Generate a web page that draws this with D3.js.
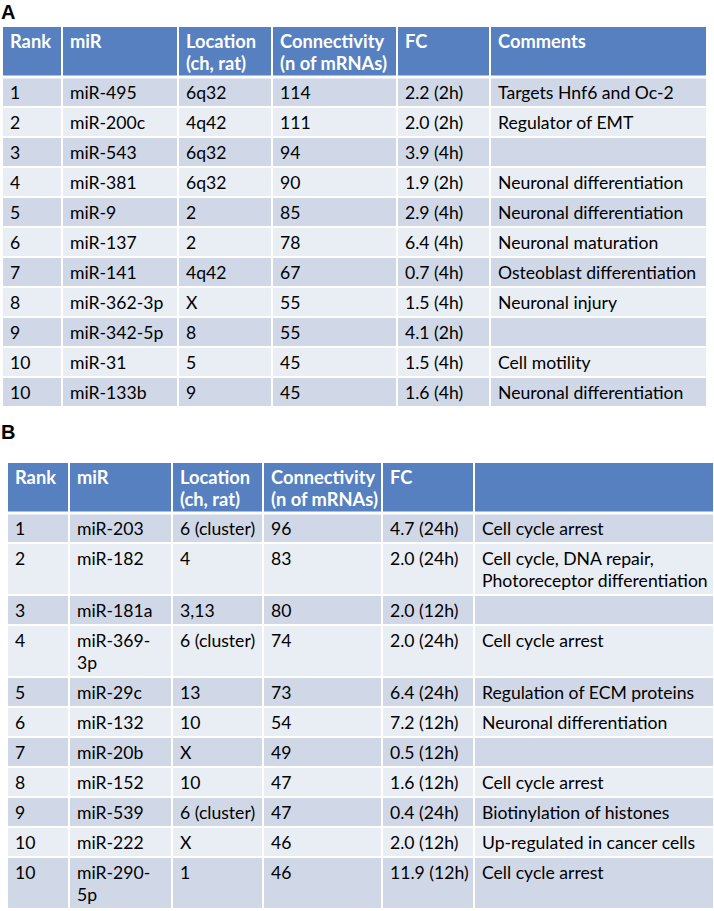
<!DOCTYPE html>
<html>
<head>
<meta charset="utf-8">
<script src="https://cdn.jsdelivr.net/npm/d3@7"></script>
<style>
  body { margin: 0; background: #fff; }
  svg { display: block; }
</style>
</head>
<body>
<svg id="chart" width="714" height="911"></svg>
<script>
// Table A
const headersA = ['Rank', 'miR', 'Location\n(ch, rat)', 'Connectivity\n(n of mRNAs)', 'FC', 'Comments'];
const ranksA = ['1', '2', '3', '4', '5', '6', '7', '8', '9', '10', '10'];
const mirsA = ['miR-495', 'miR-200c', 'miR-543', 'miR-381', 'miR-9', 'miR-137', 'miR-141', 'miR-362-3p', 'miR-342-5p', 'miR-31', 'miR-133b'];
const locationsA = ['6q32', '4q42', '6q32', '6q32', '2', '2', '4q42', 'X', '8', '5', '9'];
const connectivityA = [114, 111, 94, 90, 85, 78, 67, 55, 55, 45, 45];
const fcA = ['2.2 (2h)', '2.0 (2h)', '3.9 (4h)', '1.9 (2h)', '2.9 (4h)', '6.4 (4h)', '0.7 (4h)', '1.5 (4h)', '4.1 (2h)', '1.5 (4h)', '1.6 (4h)'];
const commentsA = ['Targets Hnf6 and Oc-2', 'Regulator of EMT', '', 'Neuronal differentiation', 'Neuronal differentiation',
  'Neuronal maturation', 'Osteoblast differentiation', 'Neuronal injury', '', 'Cell motility', 'Neuronal differentiation'];

// Table B
const headersB = ['Rank', 'miR', 'Location\n(ch, rat)', 'Connectivity\n(n of mRNAs)', 'FC', ''];
const ranksB = ['1', '2', '3', '4', '5', '6', '7', '8', '9', '10', '10'];
const mirsB = ['miR-203', 'miR-182', 'miR-181a', 'miR-369-\n3p', 'miR-29c', 'miR-132', 'miR-20b', 'miR-152', 'miR-539', 'miR-222', 'miR-290-\n5p'];
const locationsB = ['6 (cluster)', '4', '3,13', '6 (cluster)', '13', '10', 'X', '10', '6 (cluster)', 'X', '1'];
const connectivityB = [96, 83, 80, 74, 73, 54, 49, 47, 47, 46, 46];
const fcB = ['4.7 (24h)', '2.0 (24h)', '2.0 (12h)', '2.0 (24h)', '6.4 (24h)', '7.2 (12h)', '0.5 (12h)', '1.6 (12h)', '0.4 (24h)', '2.0 (12h)', '11.9 (12h)'];
const commentsB = ['Cell cycle arrest', 'Cell cycle, DNA repair,\nPhotoreceptor differentiation', '', 'Cell cycle arrest',
  'Regulation of ECM proteins', 'Neuronal differentiation', '', 'Cell cycle arrest', 'Biotinylation of histones',
  'Up-regulated in cancer cells', 'Cell cycle arrest'];

const headerColor = '#5680bf';
const bandColors = ['#d0d8e8', '#e9edf4'];
const fontFamily = 'Lato, "Open Sans", sans-serif';
const bodySize = 17.6;
const headSize = 18.3;

const svg = d3.select('#chart');

const drawTable = (g, { top, edges, headers, columns, rowBase, lineH, headerH }) => {
  const rows = d3.range(columns[0].length).map(i => columns.map(c => String(c[i])));
  const lineCount = r => d3.max(r, t => t.split('\n').length);
  const heights = [headerH, ...rows.map(r => rowBase + (lineCount(r) - 1) * lineH)];
  const offsets = [0, ...d3.cumsum(heights)];
  const y = d3.scaleLinear().domain([0, offsets[offsets.length - 1]]).range([top, top + offsets[offsets.length - 1]]);
  const x = d3.scaleOrdinal().domain(d3.range(edges.length)).range(edges);

  const all = [headers, ...rows];
  all.forEach((r, ri) => {
    const y0 = y(offsets[ri]), y1 = y(offsets[ri + 1]);
    const fill = ri === 0 ? headerColor : bandColors[(ri - 1) % 2];
    r.forEach((txt, ci) => {
      const x0 = x(ci), x1 = x(ci + 1);
      // cell background, white gaps act as the grid lines
      g.append('rect')
        .attr('x', x0 + 1).attr('y', y0 + (ri === 1 ? 1.5 : 1))
        .attr('width', x1 - x0 - 2).attr('height', y1 - y0 - (ri <= 1 ? 2.5 : 2))
        .attr('fill', fill);
      const t = g.append('text')
        .attr('x', x0 + 8)
        .attr('y', y0 + (ri === 0 ? 22 : 21.5))
        .attr('font-family', fontFamily)
        .attr('font-size', ri === 0 ? headSize : bodySize)
        .attr('font-weight', ri === 0 ? 700 : 400)
        .attr('fill', ri === 0 ? '#fff' : '#000');
      t.selectAll('tspan')
        .data(txt.split('\n'))
        .join('tspan')
        .attr('x', x0 + 8)
        .attr('dy', (d, i) => i === 0 ? 0 : lineH)
        .text(d => d);
    });
  });
};

const label = (txt, yy) => svg.append('text')
  .attr('x', 1).attr('y', yy)
  .attr('font-family', 'Arial, "Liberation Sans", sans-serif')
  .attr('font-weight', 700).attr('font-size', 20)
  .text(txt);

label('A', 19);
label('B', 439);

drawTable(svg.append('g'), {
  top: 26,
  edges: [2, 62, 178, 272, 397, 490, 707],
  headers: headersA,
  columns: [ranksA, mirsA, locationsA, connectivityA, fcA, commentsA],
  rowBase: 30, lineH: 22, headerH: 51
});

drawTable(svg.append('g'), {
  top: 462,
  edges: [7, 69, 172, 263, 382, 474, 714],
  headers: headersB,
  columns: [ranksB, mirsB, locationsB, connectivityB, fcB, commentsB],
  rowBase: 30, lineH: 22, headerH: 51
});
</script>
</body>
</html>
